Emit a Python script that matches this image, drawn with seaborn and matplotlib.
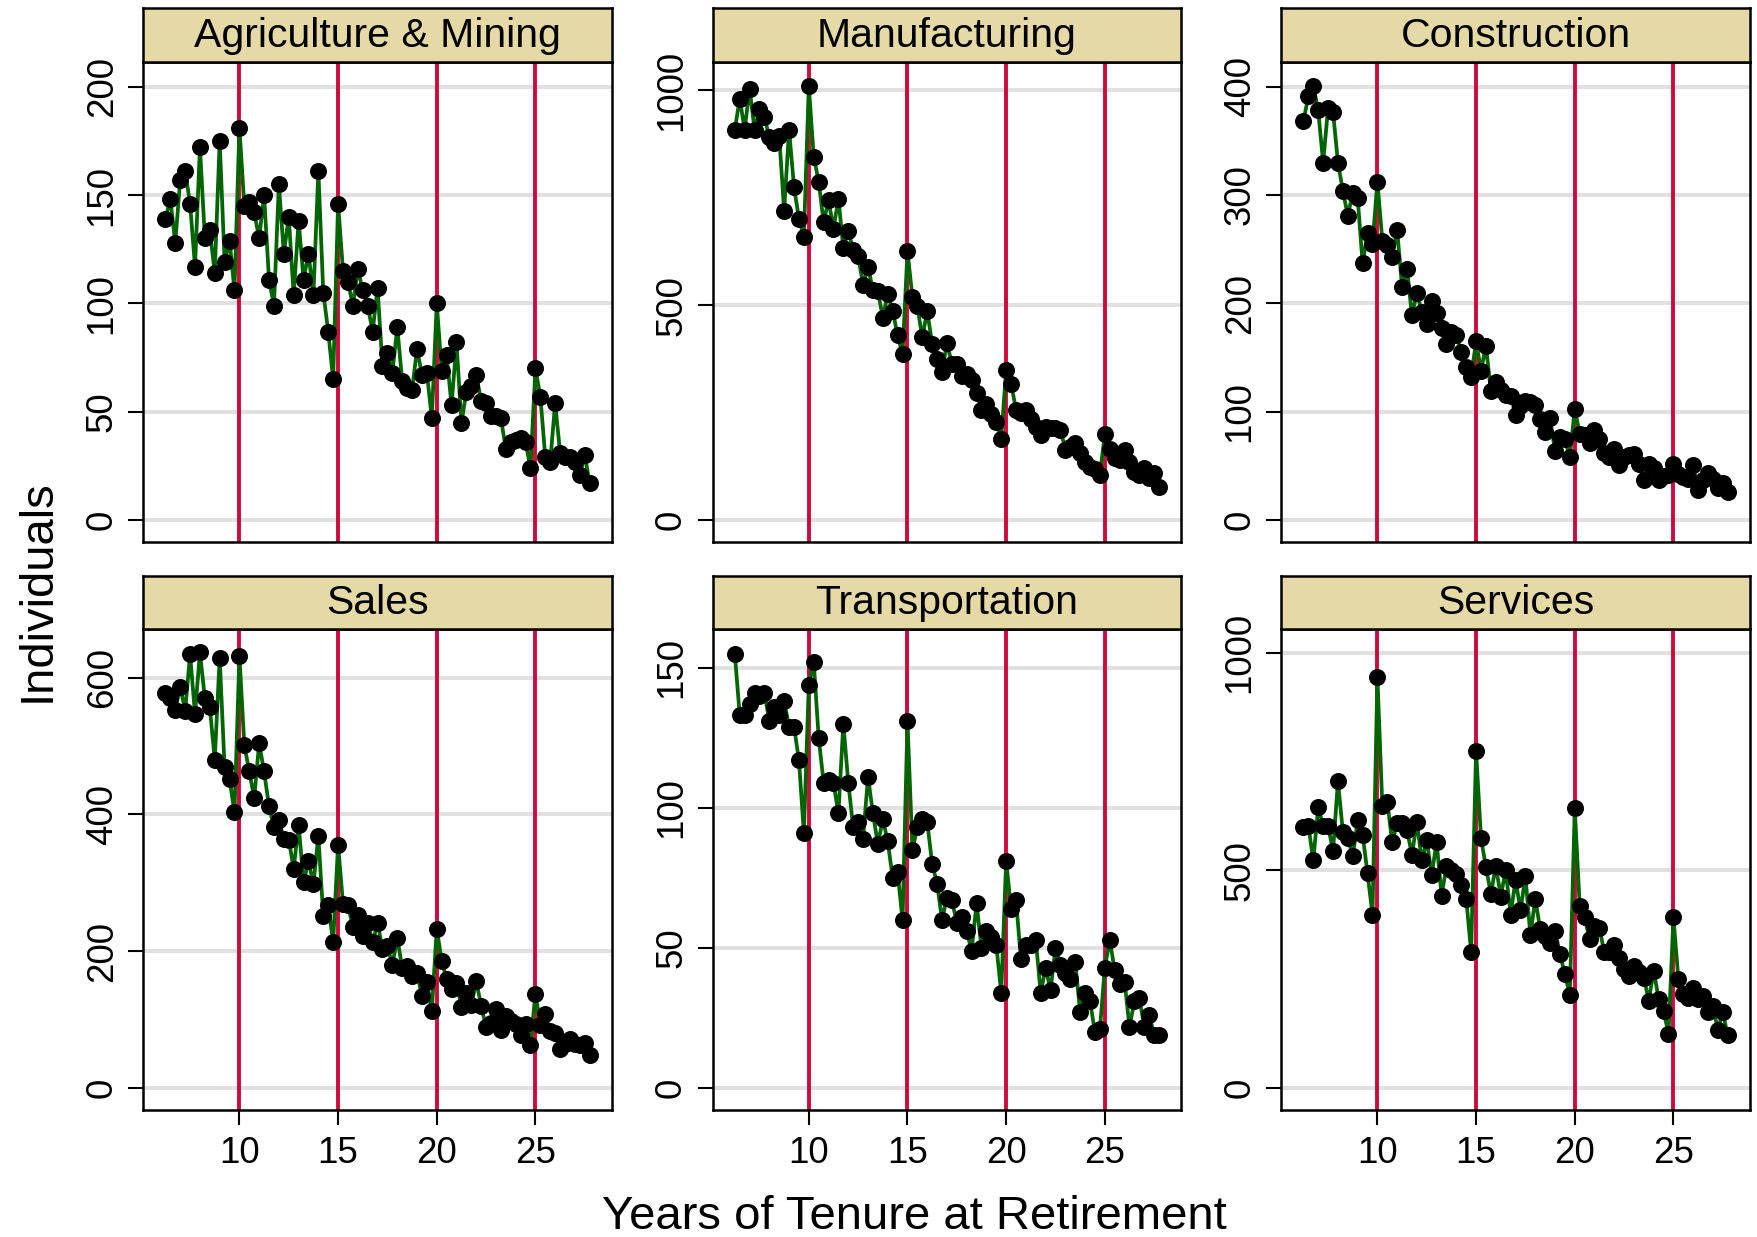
import numpy as np
import pandas as pd
import matplotlib
matplotlib.use("Agg")
import matplotlib.pyplot as plt
import seaborn as sns

# ---- data -------------------------------------------------------------
sectors = ["Agriculture & Mining", "Manufacturing", "Construction",
           "Sales", "Transportation", "Services"]

# tenure at retirement, in quarter-year steps
tenure = np.arange(6.25, 27.76, 0.25)

agri_mining = [139, 148, 128, 157, 161, 146, 117, 172, 130, 134, 114, 175, 119, 129, 106, 181,
               145, 147, 142, 130, 150, 111, 99, 155, 123, 140, 104, 138, 111, 123, 104, 161,
               105, 87, 65, 146,
               115, 110, 99, 116, 106, 99, 87, 107, 71, 77, 68, 89, 64, 61, 60, 79, 67, 68, 47, 100,
               69, 76, 53, 82, 45, 59, 62, 67, 55, 54, 48, 48, 47, 33, 36, 37, 38, 36, 24, 70,
               57, 29, 27, 54, 31, 29, 29, 27, 21, 30, 17]

manufacturing = [908, 980, 908, 1003, 908, 955, 938, 890, 877, 893, 719, 908, 775, 701, 659, 1009,
                 845, 787, 693, 744, 678, 748, 632, 673, 628, 614, 548, 589, 535, 533, 471, 527,
                 487, 430, 386, 626,
                 518, 498, 425, 486, 411, 374, 345, 413, 363, 364, 336, 341, 326, 296, 257, 271,
                 248, 229, 190, 350,
                 318, 257, 250, 256, 236, 217, 198, 217, 215, 215, 211, 164, 171, 180, 157, 136,
                 124, 120, 106, 200,
                 167, 146, 140, 163, 136, 112, 105, 122, 99, 109, 78]

construction = [368, 391, 401, 378, 330, 380, 377, 330, 304, 281, 302, 297, 237, 265, 255, 312,
                258, 254, 243, 268, 215, 232, 189, 210, 192, 181, 202, 191, 177, 163, 174, 171,
                155, 141, 132, 165,
                138, 161, 119, 128, 120, 116, 115, 97, 105, 110, 109, 106, 93, 81, 94, 64,
                77, 75, 58, 103,
                80, 79, 71, 83, 75, 62, 58, 66, 51, 58, 60, 61, 52, 37, 52, 48, 37, 41, 42, 52,
                43, 40, 38, 51, 28, 37, 44, 38, 30, 34, 26]

sales = [578, 570, 553, 587, 551, 634, 547, 637, 570, 557, 480, 629, 469, 452, 403, 632,
         501, 463, 424, 504, 463, 412, 381, 392, 364, 363, 321, 385, 301, 332, 298, 369,
         251, 267, 214, 356,
         269, 267, 236, 253, 222, 242, 213, 242, 203, 208, 180, 220, 175, 178, 164, 169,
         134, 155, 113, 233,
         186, 159, 145, 154, 119, 139, 121, 157, 120, 89, 95, 116, 85, 105, 98, 94, 78, 94, 63, 138,
         92, 108, 84, 81, 57, 64, 72, 64, 63, 66, 48]

transportation = [155, 133, 133, 137, 141, 140, 141, 131, 136, 133, 138, 129, 129, 117, 91, 144,
                  152, 125, 109, 110, 109, 98, 130, 109, 93, 95, 89, 111, 98, 87, 96, 88,
                  75, 77, 60, 131,
                  85, 93, 96, 95, 80, 73, 60, 68, 67, 59, 61, 56, 49, 66, 50, 56, 54, 51, 34, 81,
                  64, 67, 46, 51, 51, 53, 34, 43, 35, 50, 44, 41, 39, 45, 27, 34, 31, 20, 21, 43,
                  53, 42, 37, 38, 22, 31, 32, 22, 26, 19, 19]

services = [599, 603, 523, 645, 603, 603, 544, 705, 588, 574, 532, 615, 582, 493, 398, 944,
            647, 658, 565, 609, 609, 592, 536, 611, 523, 569, 490, 565, 442, 510, 500, 492,
            467, 434, 313, 774,
            574, 507, 446, 511, 440, 501, 398, 479, 408, 487, 352, 434, 365, 350, 333, 362,
            308, 262, 214, 643,
            419, 392, 342, 373, 367, 312, 312, 329, 298, 274, 257, 280, 266, 254, 201, 270,
            205, 178, 124, 392,
            251, 216, 208, 231, 205, 212, 174, 189, 134, 174, 122]

series = [agri_mining, manufacturing, construction, sales, transportation, services]

y_ticks = [[0, 50, 100, 150, 200], [0, 500, 1000], [0, 100, 200, 300, 400],
           [0, 200, 400, 600], [0, 50, 100, 150], [0, 500, 1000]]
y_limits = [(-10.2, 211.5), (-51, 1066), (-20.3, 423),
            (-31.8, 670.7), (-7.75, 163.7), (-49.9, 1053.6)]
x_limits = (5.13, 28.87)
x_ticks = [10, 15, 20, 25]
milestones = [10, 15, 20, 25]

df = pd.concat(
    [pd.DataFrame({"tenure": tenure, "count": vals, "sector": name})
     for name, vals in zip(sectors, series)],
    ignore_index=True)

# ---- styling ----------------------------------------------------------
sns.set_theme(style="white")
plt.rcParams["font.family"] = ["Liberation Sans", "DejaVu Sans"]

W, H = 1758, 1237
STRIP_COLOR = "#E5D9A5"
RED = "#CC0A3C"
GREEN = "#006400"
FRAME_LW = 1.8

g = sns.FacetGrid(df, col="sector", col_order=sectors, col_wrap=3,
                  sharex=True, sharey=False, despine=False, height=4, aspect=1)
g.map_dataframe(sns.lineplot, x="tenure", y="count", color=GREEN,
                linewidth=2.7, estimator=None, errorbar=None, zorder=3)
g.map_dataframe(sns.scatterplot, x="tenure", y="count", color="black",
                s=150, linewidth=0, zorder=4)
g.set_titles("")
g.set_axis_labels("", "")

fig = g.figure
fig.set_size_inches(W / 100, H / 100)
fig.set_dpi(100)

col_left = [143.3, 712.7, 1281.3]
panel_w = 468.5
row_top = [61.7, 629.3]
panel_h = 480.6
strip_h = 53.4

for k, ax in enumerate(g.axes.flat):
    r, c = divmod(k, 3)
    left = col_left[c]
    top = row_top[r]
    ax.set_position([left / W, 1 - (top + panel_h) / H, panel_w / W, panel_h / H])

    ticks = y_ticks[k]
    ax.set_ylim(*y_limits[k])
    ax.set_xlim(*x_limits)

    ax.set_yticks(ticks)
    ax.set_yticklabels([str(t) for t in ticks])
    ax.yaxis.grid(True, color="#E0E0E0", linewidth=2.8)
    ax.xaxis.grid(False)
    ax.set_axisbelow(True)
    for m in milestones:
        ax.axvline(m, color=RED, linewidth=2.8, zorder=2)

    for sp in ax.spines.values():
        sp.set_color("black")
        sp.set_linewidth(FRAME_LW)
        sp.set_zorder(5)

    ax.tick_params(axis="y", left=True, right=False, direction="out", length=11,
                   width=1.5, pad=6, labelsize=26.5, colors="black")
    for lab in ax.get_yticklabels():
        lab.set_rotation(90)
        lab.set_va("center")

    ax.set_xticks(x_ticks)
    if r == 1:
        ax.tick_params(axis="x", bottom=True, labelbottom=True, direction="out",
                       length=11, width=1.5, pad=8, labelsize=26.5, colors="black")
    else:
        ax.tick_params(axis="x", bottom=False, labelbottom=False)

    # title strip above the panel
    sax = fig.add_axes([left / W, 1 - top / H, panel_w / W, strip_h / H])
    sax.set_facecolor(STRIP_COLOR)
    sax.set_xticks([])
    sax.set_yticks([])
    for sp in sax.spines.values():
        sp.set_color("black")
        sp.set_linewidth(FRAME_LW)
    sax.text(0.5, 0.28, sectors[k], transform=sax.transAxes, ha="center",
             va="baseline", fontsize=29.5, color="black")

fig.text(914 / W, 1 - 1229 / H, "Years of Tenure at Retirement", ha="center",
         va="baseline", fontsize=34, color="black")
fig.text(50 / W, 1 - 591 / H, "Individuals", rotation=90, rotation_mode="anchor",
         ha="center", va="baseline", fontsize=34, color="black")

fig.savefig("out.png", dpi=100, facecolor="white")
